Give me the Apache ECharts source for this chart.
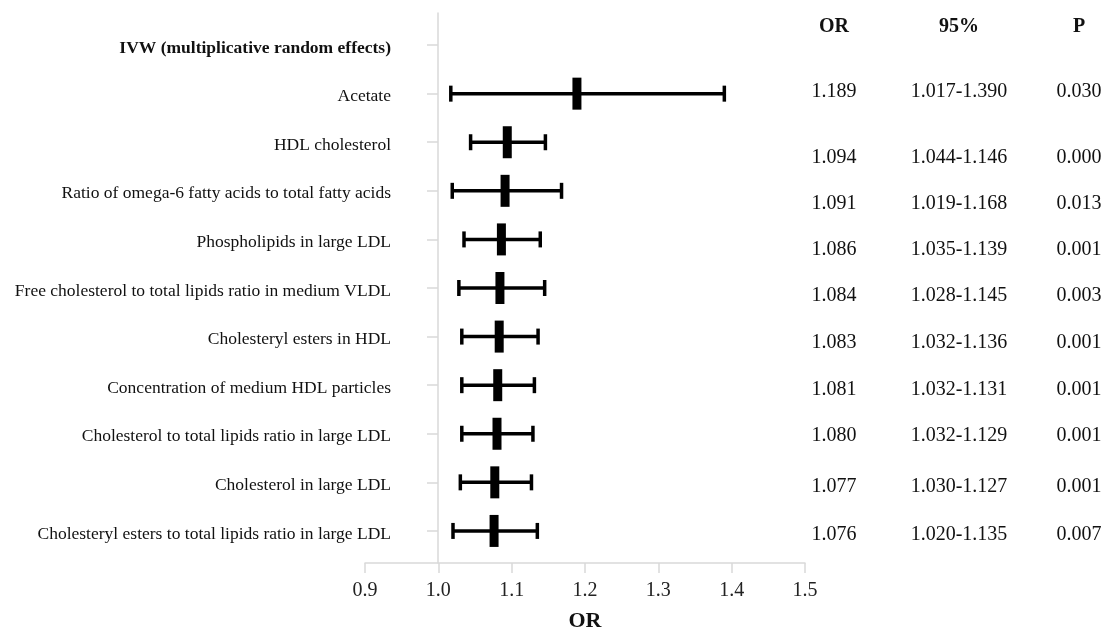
<!DOCTYPE html>
<html>
<head>
<meta charset="utf-8">
<script src="https://cdn.jsdelivr.net/npm/echarts@6/dist/echarts.min.js"></script>
<style>
    html, body { margin: 0; padding: 0; background: #fff; }
    #forest { width: 1108px; height: 632px; }
</style>
</head>
<body>
<div id="forest"></div>
<script>
// rows, top to bottom (row 0 is the method heading)
var labels = [
    'IVW (multiplicative random effects)',
    'Acetate',
    'HDL cholesterol',
    'Ratio of omega-6 fatty acids to total fatty acids',
    'Phospholipids in large LDL',
    'Free cholesterol to total lipids ratio in medium VLDL',
    'Cholesteryl esters in HDL',
    'Concentration of medium HDL particles',
    'Cholesterol to total lipids ratio in large LDL',
    'Cholesterol in large LDL',
    'Cholesteryl esters to total lipids ratio in large LDL'
];
var orValues = [null, 1.189, 1.094, 1.091, 1.086, 1.084, 1.083, 1.081, 1.080, 1.077, 1.076];
var ciLow    = [null, 1.017, 1.044, 1.019, 1.035, 1.028, 1.032, 1.032, 1.032, 1.030, 1.020];
var ciHigh   = [null, 1.390, 1.146, 1.168, 1.139, 1.145, 1.136, 1.131, 1.129, 1.127, 1.135];
var pValues  = [null, '0.030', '0.000', '0.013', '0.001', '0.003', '0.001', '0.001', '0.001', '0.001', '0.007'];
var tableHead = ['OR', '95%', 'P'];
var xTicks = [0.9, 1.0, 1.1, 1.2, 1.3, 1.4, 1.5];

// the table in the original is not quite on the rows: small nudges in px
var tableNudge = [-18, -2, 16, 13, 10, 8, 6, 5, 2, 4, 4];
var tableCols = [834, 959, 1079];

var serif = '"Liberation Serif", "Times New Roman", serif';

function forestChart() {
    var myChart = echarts.init(document.getElementById('forest'));

    var rows = [];
    var rowIdx = [];
    for (var i = 0; i < labels.length; i++) {
        rowIdx.push(i);
        if (orValues[i] != null) {
            rows.push([i, ciLow[i], ciHigh[i], orValues[i]]);
        }
    }

    var option = {
        animation: false,
        backgroundColor: '#fff',
        grid: { left: 365, right: 303, top: 13, bottom: 69, containLabel: false, outerBoundsMode: 'none' },
        xAxis: {
            type: 'value',
            min: 0.9,
            max: 1.5,
            interval: 0.1,
            name: 'OR',
            nameLocation: 'middle',
            nameGap: 47,
            nameTextStyle: { fontFamily: serif, fontSize: 22, fontWeight: 'bold', color: '#111' },
            axisLine: { show: true, onZero: false, lineStyle: { color: '#d9d9d9', width: 1.5 } },
            axisTick: { show: true, inside: false, length: 10, lineStyle: { color: '#d9d9d9', width: 1.5 } },
            axisLabel: {
                margin: 18,
                fontFamily: serif,
                fontSize: 20,
                color: '#222',
                formatter: function (v) { return v.toFixed(1); }
            },
            splitLine: { show: false }
        },
        yAxis: {
            type: 'value',
            inverse: true,
            min: -0.66,
            max: 10.66,
            offset: -73,
            axisLine: { show: true, onZero: false, lineStyle: { color: '#d9d9d9', width: 1.5 } },
            axisTick: { show: true, length: 11, customValues: rowIdx, lineStyle: { color: '#d9d9d9', width: 1.5 } },
            axisLabel: {
                customValues: rowIdx,
                margin: 47,
                padding: [6, 0, 0, 0],
                fontFamily: serif,
                fontSize: 17.5,
                color: '#111',
                formatter: function (v) {
                    var k = Math.round(v);
                    if (k === 0) return '{b|' + labels[k] + '}';
                    return labels[k];
                },
                rich: {
                    b: { fontFamily: serif, fontSize: 17.5, fontWeight: 'bold', color: '#111' }
                }
            },
            splitLine: { show: false }
        },
        series: [{
            type: 'custom',
            data: rows,
            encode: { x: [1, 2, 3], y: 0 },
            renderItem: function (params, api) {
                var y = api.value(0);
                var lo = api.coord([api.value(1), y]);
                var hi = api.coord([api.value(2), y]);
                var mid = api.coord([api.value(3), y]);
                var capH = 8;
                var stroke = { stroke: '#000', lineWidth: 3.5 };
                return {
                    type: 'group',
                    children: [
                        { type: 'line', shape: { x1: lo[0], y1: lo[1], x2: hi[0], y2: hi[1] }, style: stroke },
                        { type: 'line', shape: { x1: lo[0], y1: lo[1] - capH, x2: lo[0], y2: lo[1] + capH }, style: stroke },
                        { type: 'line', shape: { x1: hi[0], y1: hi[1] - capH, x2: hi[0], y2: hi[1] + capH }, style: stroke },
                        { type: 'rect', shape: { x: mid[0] - 4.5, y: mid[1] - 16, width: 9, height: 32 }, style: { fill: '#000' } }
                    ]
                };
            }
        }]
    };
    myChart.setOption(option);

    // table on the right
    var texts = [];
    for (var i = 0; i < labels.length; i++) {
        var py = myChart.convertToPixel({ yAxisIndex: 0 }, i) + tableNudge[i];
        var cells, bold = false;
        if (i === 0) {
            cells = tableHead;
            bold = true;
        } else {
            cells = [orValues[i].toFixed(3), ciLow[i].toFixed(3) + '-' + ciHigh[i].toFixed(3), pValues[i]];
        }
        for (var c = 0; c < cells.length; c++) {
            texts.push({
                type: 'text',
                x: tableCols[c],
                y: py,
                style: {
                    text: cells[c],
                    textAlign: 'center',
                    textVerticalAlign: 'middle',
                    fontFamily: serif,
                    fontSize: 20,
                    fontWeight: bold ? 'bold' : 'normal',
                    fill: '#111'
                }
            });
        }
    }
    myChart.setOption({ graphic: texts });
}

forestChart();
</script>
</body>
</html>
